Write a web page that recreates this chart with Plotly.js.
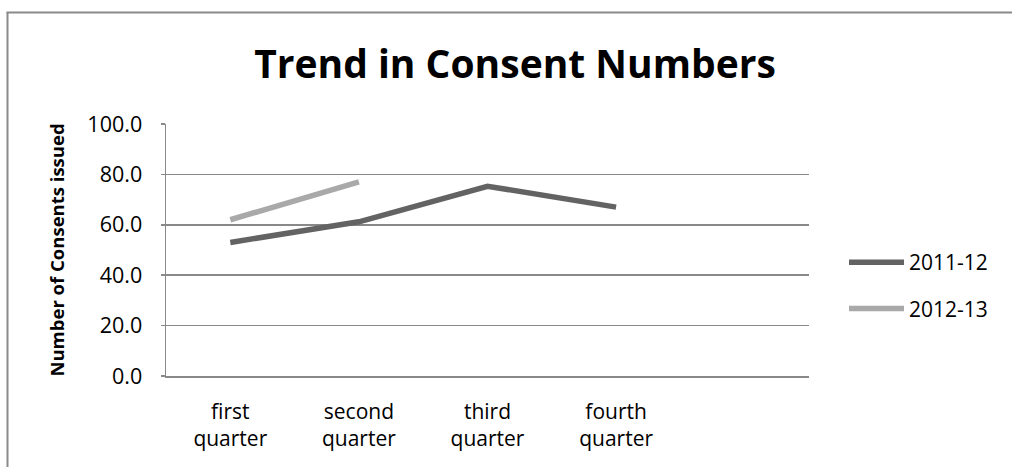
<!DOCTYPE html>
<html>
<head>
<meta charset="utf-8">
<script src="https://cdn.plot.ly/plotly-3.0.1.min.js"></script>
<style>
  html, body { margin: 0; padding: 0; background: #ffffff; }
  #chart { width: 1012px; height: 467px; }
</style>
</head>
<body>
<div id="chart"></div>
<script>
// Quarterly consent counts
const quarters = ["first quarter", "second quarter", "third quarter", "fourth quarter"];
const tickLabels = ["first<br>quarter", "second<br>quarter", "third<br>quarter", "fourth<br>quarter"];
const series2011 = [53.0, 61.2, 75.3, 67.0];
const series2012 = [62.0, 77.0, null, null];
const seriesNames = ["2011-12", "2012-13"];
const yTicks = [0, 20, 40, 60, 80, 100];

const FONT = "Open Sans, Lato, sans-serif";
const GRID = "#898989";

const W = 1012, H = 467;
const M = { l: 166, r: 203, t: 124, b: 91 };
const pw = W - M.l - M.r, ph = H - M.t - M.b;
// pixel -> paper helpers for the outer chart frame and legend
const px = x => (x - M.l) / pw;
const py = y => (H - M.b - y) / ph;

const traces = [
  {
    x: quarters, y: series2011, name: seriesNames[0], type: "scatter", mode: "lines",
    legendgroup: "a", line: { color: "#636363", width: 5.5 }, connectgaps: false
  },
  {
    x: quarters, y: series2012, name: seriesNames[1], type: "scatter", mode: "lines",
    legendgroup: "b", line: { color: "#a9a9a9", width: 5.5 }, connectgaps: false
  }
];

const layout = {
  width: W, height: H,
  margin: M,
  paper_bgcolor: "#ffffff",
  plot_bgcolor: "#ffffff",
  font: { family: FONT, color: "#000000", size: 21 },
  title: {
    text: "<b>Trend in Consent Numbers</b>",
    font: { family: FONT, size: 39, color: "#000000" },
    x: (515 / W), xanchor: "center",
    y: 1 - (64 / H), yanchor: "middle"
  },
  xaxis: {
    type: "category",
    categoryorder: "array",
    categoryarray: quarters,
    range: [-0.5, 4.5],
    tickvals: quarters,
    ticktext: tickLabels,
    showgrid: false,
    zeroline: false,
    showline: true,
    linecolor: GRID,
    linewidth: 1.5,
    ticks: "",
    ticklabelstandoff: 16,
    tickfont: { family: FONT, size: 21, color: "#000000" },
    fixedrange: true
  },
  yaxis: {
    range: [0, 100],
    tickvals: yTicks,
    tickformat: ".1f",
    showgrid: true,
    gridcolor: GRID,
    gridwidth: 1.5,
    zeroline: false,
    showline: true,
    linecolor: GRID,
    linewidth: 1.5,
    ticks: "outside",
    ticklen: 4,
    tickcolor: GRID,
    tickwidth: 1.5,
    ticklabelstandoff: 14,
    tickfont: { family: FONT, size: 21.5, color: "#000000" },
    title: {
      text: "<b>Number of Consents issued</b>",
      font: { family: FONT, size: 18.5, color: "#000000" },
      standoff: 18
    },
    fixedrange: true
  },
  showlegend: true,
  legend: {
    x: px(844), xanchor: "left",
    y: py(242), yanchor: "top",
    bgcolor: "rgba(0,0,0,0)",
    font: { family: FONT, size: 21, color: "#000000" },
    tracegroupgap: 16,
    itemwidth: 55
  },
  shapes: [
    // outer chart frame (left and top edges)
    { type: "line", xref: "paper", yref: "paper", x0: px(7.5), x1: px(7.5), y0: py(12.5), y1: py(480),
      line: { color: "#8a8a8a", width: 2 } },
    { type: "line", xref: "paper", yref: "paper", x0: px(6.5), x1: px(1030), y0: py(12.5), y1: py(12.5),
      line: { color: "#8a8a8a", width: 2 } }
  ]
};

Plotly.newPlot("chart", traces, layout, { displayModeBar: false, staticPlot: true });
</script>
</body>
</html>
